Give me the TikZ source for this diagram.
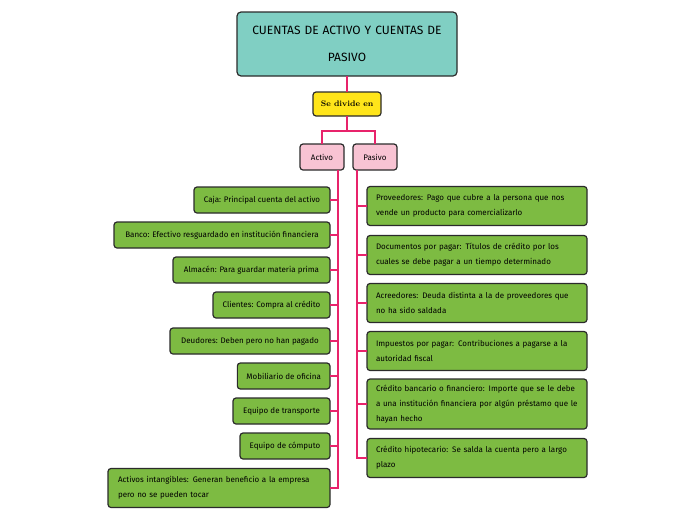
\documentclass[tikz,border=0pt]{standalone}
\usepackage{fontspec}
\setsansfont{Fira Sans}
\usepackage{tikz}
\usetikzlibrary{positioning}
\definecolor{tealbox}{HTML}{80CFC3}
\definecolor{yellowbox}{HTML}{FFE51A}
\definecolor{pinkbox}{HTML}{F8C3D3}
\definecolor{greenbox}{HTML}{7DBB42}
\definecolor{pinkline}{HTML}{E8236B}
\definecolor{darkline}{HTML}{2B2B2B}

\begin{document}
\begin{tikzpicture}[x=1pt,y=-1pt]
  \tikzset{TitleStyle/.style = {
    shape         = rectangle,
    rounded corners = 4pt,
    draw          = darkline,
    fill          = tealbox,
    line width    = 1.2pt,
    text          = black,
    font          = \sffamily\fontsize{12}{27}\selectfont,
    text width    = 210pt,
    align         = center,
    minimum width = 220pt,
    minimum height= 64pt,
    inner sep     = 0pt,
    outer sep     = 0pt
    }
  }
  \tikzset{SplitStyle/.style = {
    shape         = rectangle,
    rounded corners = 3pt,
    draw          = darkline,
    fill          = yellowbox,
    line width    = 1.2pt,
    font          = \rmfamily\bfseries\fontsize{8}{9}\selectfont,
    minimum width = 68pt,
    minimum height= 24pt,
    inner sep     = 0pt,
    outer sep     = 0pt
    }
  }
  \tikzset{BranchStyle/.style = {
    shape         = rectangle,
    rounded corners = 3pt,
    draw          = darkline,
    fill          = pinkbox,
    line width    = 1.2pt,
    font          = \sffamily\fontsize{8}{9}\selectfont,
    minimum width = 44pt,
    minimum height= 26pt,
    inner sep     = 0pt,
    outer sep     = 0pt
    }
  }
  \tikzset{LeafStyle/.style = {
    shape         = rectangle,
    rounded corners = 3pt,
    draw          = darkline,
    fill          = greenbox,
    line width    = 1.2pt,
    text          = black,
    font          = \sffamily\fontsize{8}{15}\selectfont,
    minimum height= 26pt,
    inner xsep    = 9pt,
    inner ysep    = 0pt,
    outer sep     = 0pt
    }
  }
  \tikzset{NoteStyle/.style = {
    LeafStyle,
    text width    = 202pt,
    align         = left
    }
  }
  \tikzset{EdgeStyle/.style = {
    draw          = pinkline,
    line width    = 1.6pt
    }
  }

  \useasboundingbox (0,0) rectangle (696,520);

  \node[TitleStyle](T) at (347,44) {CUENTAS DE ACTIVO Y CUENTAS DE\\PASIVO};
  \node[SplitStyle](S) at (347,104) {Se divide en};
  \node[BranchStyle](Act) at (322,157) {Activo};
  \node[BranchStyle](Pas) at (375,157) {Pasivo};

  % activo
  \node[LeafStyle,minimum width=136pt,anchor=east](A1) at (330,200) {Caja: Principal cuenta del activo};
  \node[LeafStyle,minimum width=216pt,anchor=east](A2) at (330,235) {Banco: Efectivo resguardado en institución financiera};
  \node[LeafStyle,minimum width=157pt,anchor=east](A3) at (330,270) {Almacén: Para guardar materia prima};
  \node[LeafStyle,minimum width=117pt,anchor=east](A4) at (330,305) {Clientes: Compra al crédito};
  \node[LeafStyle,minimum width=160pt,anchor=east](A5) at (330,341) {Deudores: Deben pero no han pagado};
  \node[LeafStyle,minimum width=91pt,anchor=east](A6) at (330,376) {Mobiliario de oficina};
  \node[LeafStyle,minimum width=97pt,anchor=east](A7) at (330,411) {Equipo de transporte};
  \node[LeafStyle,minimum width=90pt,anchor=east](A8) at (330,446) {Equipo de cómputo};
  \node[NoteStyle,minimum width=222pt,minimum height=39pt,anchor=east](A9) at (330,488) {Activos intangibles: Generan beneficio a la empresa\\pero no se pueden tocar};

  % pasivo
  \node[NoteStyle,minimum width=220pt,minimum height=39pt,anchor=west](P1) at (367,206) {Proveedores: Pago que cubre a la persona que nos\\vende un producto para comercializarlo};
  \node[NoteStyle,minimum width=220pt,minimum height=39pt,anchor=west](P2) at (367,255) {Documentos por pagar: Títulos de crédito por los\\cuales se debe pagar a un tiempo determinado};
  \node[NoteStyle,minimum width=220pt,minimum height=39pt,anchor=west](P3) at (367,303) {Acreedores: Deuda distinta a la de proveedores que\\no ha sido saldada};
  \node[NoteStyle,minimum width=220pt,minimum height=39pt,anchor=west](P4) at (367,351) {Impuestos por pagar: Contribuciones a pagarse a la\\autoridad fiscal};
  \node[NoteStyle,minimum width=220pt,minimum height=50pt,anchor=west](P5) at (367,404) {Crédito bancario o financiero: Importe que se le debe\\a una institución financiera por algún préstamo que le\\hayan hecho};
  \node[NoteStyle,minimum width=220pt,minimum height=39pt,anchor=west](P6) at (367,458) {Crédito hipotecario: Se salda la cuenta pero a largo\\plazo};

  \coordinate (split) at (347,131);
  \coordinate (aTop) at (338,170);
  \coordinate (pTop) at (357,170);

  \draw[EdgeStyle](T) -- (S);
  \draw[EdgeStyle](S) -- (split);
  \draw[EdgeStyle](split) -| (Act);
  \draw[EdgeStyle](split) -| (Pas);
  \foreach \i in {1,...,9}
    \draw[EdgeStyle](aTop) |- (A\i.east);
  \foreach \i in {1,...,6}
    \draw[EdgeStyle](pTop) |- (P\i.west);
\end{tikzpicture}
\end{document}
